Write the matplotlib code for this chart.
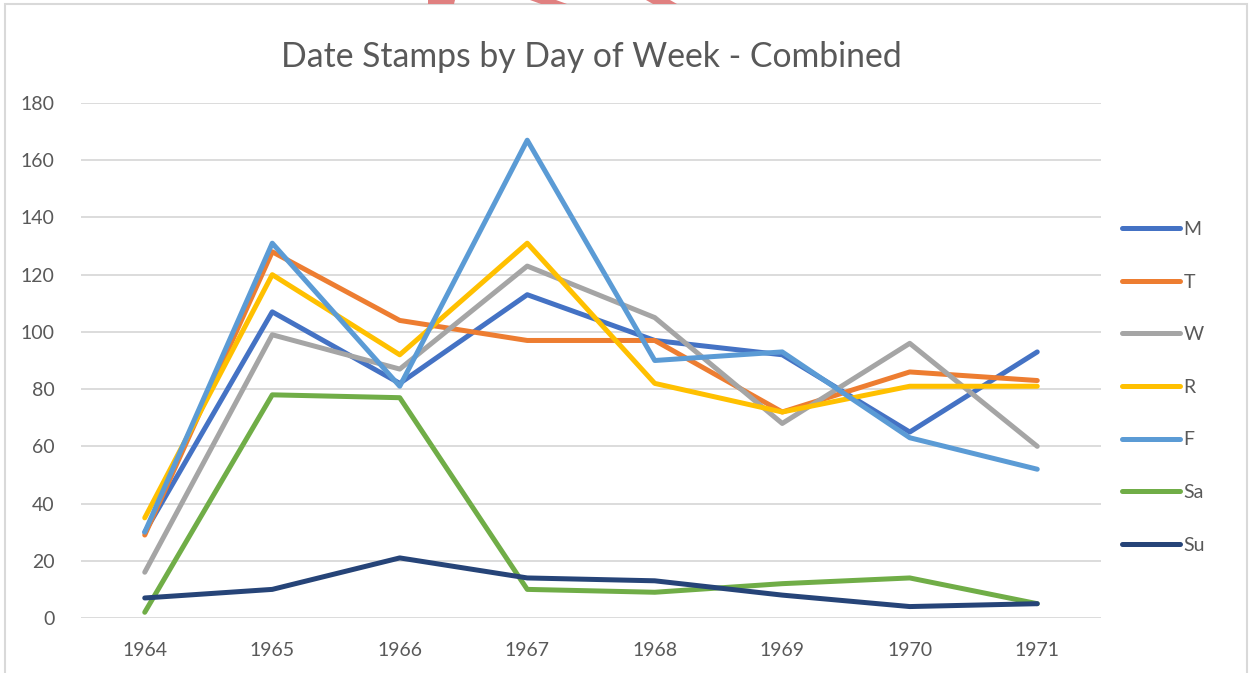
import matplotlib.pyplot as plt
from matplotlib.patches import Rectangle, Polygon

years = ['1964', '1965', '1966', '1967', '1968', '1969', '1970', '1971']
days = ['M', 'T', 'W', 'R', 'F', 'Sa', 'Su']
m_vals = [30, 107, 82, 113, 97, 92, 65, 93]
t_vals = [29, 128, 104, 97, 97, 72, 86, 83]
w_vals = [16, 99, 87, 123, 105, 68, 96, 60]
r_vals = [35, 120, 92, 131, 82, 72, 81, 81]
f_vals = [30, 131, 81, 167, 90, 93, 63, 52]
sa_vals = [2, 78, 77, 10, 9, 12, 14, 5]
su_vals = [7, 10, 21, 14, 13, 8, 4, 5]
colors = ['#4472C4', '#ED7D31', '#A5A5A5', '#FFC000', '#5B9BD5', '#70AD47', '#264478']

series = [m_vals, t_vals, w_vals, r_vals, f_vals, sa_vals, su_vals]

plt.rcParams['font.family'] = ['Lato', 'DejaVu Sans']

fig = plt.figure(figsize=(12.49, 6.73), dpi=100)
ax = fig.add_axes([81 / 1249, 55 / 673, (1101 - 81) / 1249, (618 - 103) / 673])

x = range(len(years))
for name, vals, c in zip(days, series, colors):
    ax.plot(x, vals, color=c, lw=3.6, label=name,
            solid_capstyle='round', solid_joinstyle='round')

ax.set_xlim(-0.5, len(years) - 0.5)
ax.set_ylim(0, 180)
ax.set_yticks(range(0, 181, 20))
ax.set_xticks(list(x))
ax.set_xticklabels(years)
ax.grid(axis='y', color='#d9d9d9', lw=1.3)
ax.set_axisbelow(True)
for s in ax.spines.values():
    s.set_visible(False)
ax.tick_params(axis='both', length=0, labelsize=14, colors='#595959')
ax.tick_params(axis='y', pad=19)
ax.tick_params(axis='x', pad=17)

ax.set_title('Date Stamps by Day of Week - Combined', fontsize=24.3,
             color='#595959', pad=26)

leg = ax.legend(loc='center left', bbox_to_anchor=(1.013, 0.448), frameon=False,
                fontsize=14, handlelength=3.0, handletextpad=0.15,
                labelspacing=1.83, borderaxespad=0)
for t in leg.get_texts():
    t.set_color('#595959')
for h in leg.legend_handles:
    h.set_linewidth(3.6)

# chart border
fig.patches.append(Rectangle((5 / 1249, -0.01), 1242 / 1249, 669 / 673 + 0.01,
                             transform=fig.transFigure, fill=False,
                             edgecolor='#d9d9d9', lw=1.5))

# red fragments peeking above the chart
frags = [[(428, 0), (455, 0), (454, 4), (428, 4)],
         [(530, 0), (556, 0), (567, 4), (541, 4)],
         [(646, 0), (670, 0), (677, 4), (653, 4)]]
for pts in frags:
    fig.patches.append(Polygon([(px / 1249, 1 - py / 673) for px, py in pts],
                               closed=True, transform=fig.transFigure,
                               facecolor='#e08080', edgecolor='none'))

fig.savefig('out.png', dpi=100)
